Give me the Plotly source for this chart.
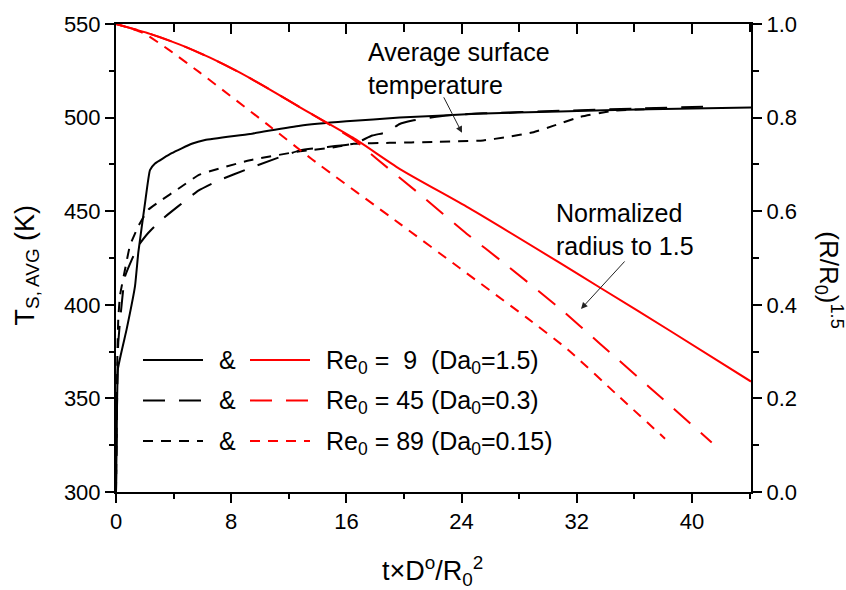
import plotly.graph_objects as go

# ---------------- data ----------------
# Average surface temperature, T_S,AVG (K)  -- left axis
t_T9 = [0, 0.05, 0.14, 0.74, 1.32, 1.55, 2.01, 2.36, 2.71, 3.87, 5.26, 6.18, 9.3, 12.78, 16.0, 19.7, 25.0, 30.8, 37.0, 44.1]
T9 = [300, 330, 366, 387, 410, 428, 454, 472, 475.5, 481, 486, 488, 491.3, 495.7, 498, 500, 502, 503.3, 504.5, 505.4]

t_T45 = [0, 0.05, 0.08, 0.12, 0.16, 0.3, 0.62, 1.09, 1.55, 2.25, 3.17, 4.33, 5.72, 7.0, 9.3, 12.78, 16.5,
         17.8, 18.8, 19.7, 20.6, 22.0, 23.4, 25.5, 30.8, 36.0, 41.4]
T45 = [300, 335, 352, 372, 380, 393, 415, 424, 431.6, 438.5, 445.5, 452.7, 461, 466, 473, 482.5, 486,
       490.4, 492.2, 496.6, 498.4, 500.2, 501.4, 502.3, 503.6, 504.8, 506]

t_T89 = [0, 0.05, 0.1, 0.16, 0.28, 0.63, 0.97, 1.55, 2.24, 3.17, 4.33, 5.8, 9.3, 12.78, 15.07, 16.5, 19.0,
         22.0, 25.5, 27.1, 29.0, 30.4, 32.2, 34.5, 36.9, 38.1]
T89 = [300, 340, 375, 392.7, 405, 419, 431.6, 442, 450.8, 456, 462, 469.5, 477.2, 482, 484, 486, 486.5,
       487, 487.8, 489.6, 492.2, 495.7, 500.3, 503.6, 504.6, 505.2]

# Normalized radius (R/R0)^1.5 -- right axis
t_R9 = [0, 2.36, 4.44, 6.53, 8.61, 10.69, 12.78, 16.46, 19.72, 24.5, 30.8, 33.6, 38.5, 44.1]
R9 = [1.0, 0.979, 0.956, 0.928, 0.896, 0.860, 0.822, 0.757, 0.690, 0.607, 0.490, 0.437, 0.344, 0.236]

t_R45 = [0, 2.36, 4.44, 6.53, 8.61, 10.69, 12.78, 16.46, 18.1, 21.11, 24.35, 26.87, 30.83, 33.61, 37.08, 41.37]
R45 = [1.0, 0.979, 0.956, 0.928, 0.896, 0.860, 0.822, 0.754, 0.712, 0.636, 0.552, 0.491, 0.392, 0.317, 0.223, 0.106]

t_R89 = [0, 1.875, 3.75, 5.83, 10.49, 13.61, 19.72, 23.89, 28.54, 31.39, 35.0, 38.13]
R89 = [1.0, 0.981, 0.943, 0.896, 0.786, 0.711, 0.573, 0.478, 0.372, 0.304, 0.202, 0.114]

legend_labels = [
    "Re<sub>0</sub> = \u00a09 \u00a0(Da<sub>0</sub>=1.5)",
    "Re<sub>0</sub> = 45 (Da<sub>0</sub>=0.3)",
    "Re<sub>0</sub> = 89 (Da<sub>0</sub>=0.15)",
]

x_ticks = [0, 8, 16, 24, 32, 40]
yL_ticks = [300, 350, 400, 450, 500, 550]
yR_ticks = [0.0, 0.2, 0.4, 0.6, 0.8, 1.0]

# ---------------- styling ----------------
FONT = "Liberation Sans, Arial, Helvetica, sans-serif"
RED = "#ff0000"
BLACK = "#000000"
LONG = "22px,14px"
SHORT = "10px,8px"

W, H = 846, 590
L, R, T, B = 116, 95, 19, 98
PW, PH = W - L - R, H - T - B


def PX(px):
    return (px - L) / PW


def PY(py):
    return 1 - (py - T) / PH


fig = go.Figure()

for tx, ty, dash in [(t_T9, T9, "solid"), (t_T45, T45, LONG), (t_T89, T89, SHORT)]:
    fig.add_trace(go.Scatter(x=tx, y=ty, mode="lines", xaxis="x", yaxis="y",
                             line=dict(color=BLACK, width=2, dash=dash, shape="spline", smoothing=0.4),
                             showlegend=False))

for tx, ty, dash in [(t_R9, R9, "solid"), (t_R45, R45, LONG), (t_R89, R89, SHORT)]:
    fig.add_trace(go.Scatter(x=tx, y=ty, mode="lines", xaxis="x2", yaxis="y2",
                             line=dict(color=RED, width=2, dash=dash, shape="spline", smoothing=0.6),
                             showlegend=False))

tickfont = dict(family=FONT, size=22, color=BLACK)
xr = [0, 44.1]

fig.update_layout(
    width=W, height=H,
    margin=dict(l=L, r=R, t=T, b=B, pad=0),
    paper_bgcolor="white", plot_bgcolor="white",
    showlegend=False,
    font=dict(family=FONT, color=BLACK),
    xaxis=dict(range=xr, tickvals=x_ticks, ticks="outside", ticklen=9, tickwidth=1.5,
               tickcolor=BLACK, showline=True, linewidth=2, linecolor=BLACK,
               showgrid=False, zeroline=False, tickfont=tickfont, anchor="y",
               minor=dict(dtick=4, tick0=0, ticks="outside", ticklen=5, tickwidth=1.5,
                          tickcolor=BLACK, showgrid=False)),
    xaxis2=dict(range=xr, tickvals=x_ticks, ticks="inside", ticklen=10, tickwidth=1.5,
                tickcolor=BLACK, showline=True, linewidth=2, linecolor=BLACK,
                showgrid=False, zeroline=False, showticklabels=False,
                overlaying="x", side="top", anchor="y2",
                minor=dict(dtick=4, tick0=0, ticks="inside", ticklen=8, tickwidth=1.5,
                           tickcolor=BLACK, showgrid=False)),
    yaxis=dict(range=[300, 550], tickvals=yL_ticks, ticks="outside", ticklen=9, tickwidth=1.5,
               tickcolor=BLACK, showline=True, linewidth=2, linecolor=BLACK,
               showgrid=False, zeroline=False, tickfont=tickfont, anchor="x",
               minor=dict(dtick=25, tick0=300, ticks="outside", ticklen=5, tickwidth=1.5,
                          tickcolor=BLACK, showgrid=False)),
    yaxis2=dict(range=[0, 1], tickvals=yR_ticks, tickformat=".1f", ticks="outside", ticklen=9,
                tickwidth=1.5, tickcolor=BLACK, showline=True, linewidth=2, linecolor=BLACK,
                showgrid=False, zeroline=False, tickfont=tickfont,
                overlaying="y", side="right", anchor="x2",
                minor=dict(dtick=0.1, tick0=0, ticks="outside", ticklen=6, tickwidth=1.5,
                           tickcolor=BLACK, showgrid=False)),
)

ann = []
# axis titles
ann.append(dict(text="t\u00d7D<sup>o</sup>/R<sub>0</sub><sup>2</sup>", x=PX(432), y=PY(572),
                xref="paper", yref="paper", showarrow=False, xanchor="center", yanchor="middle",
                font=dict(family=FONT, size=27, color=BLACK)))
ann.append(dict(text="T<sub>S, AVG</sub> (K)", x=PX(27), y=PY(262), textangle=-90,
                xref="paper", yref="paper", showarrow=False, xanchor="center", yanchor="middle",
                font=dict(family=FONT, size=27, color=BLACK)))
ann.append(dict(text="(R/R<sub>0</sub>)<sup>1.5</sup>", x=PX(829), y=PY(278), textangle=90,
                xref="paper", yref="paper", showarrow=False, xanchor="center", yanchor="middle",
                font=dict(family=FONT, size=26, color=BLACK)))

# text annotations with arrows
ann.append(dict(text="Average surface<br>temperature", x=PX(366), y=PY(31), align="left",
                xref="paper", yref="paper", showarrow=False, xanchor="left", yanchor="top",
                font=dict(family=FONT, size=25, color=BLACK)))
ann.append(dict(text="", x=PX(462), y=PY(129), ax=443 - 462, ay=92 - 129,
                xref="paper", yref="paper", showarrow=True, arrowhead=2, arrowsize=1.3,
                arrowwidth=1, arrowcolor="#222222"))
ann.append(dict(text="Normalized<br>radius to 1.5", x=PX(554), y=PY(194), align="left",
                xref="paper", yref="paper", showarrow=False, xanchor="left", yanchor="top",
                font=dict(family=FONT, size=25, color=BLACK)))
ann.append(dict(text="", x=PX(581), y=PY(307), ax=626 - 581, ay=258 - 307,
                xref="paper", yref="paper", showarrow=True, arrowhead=2, arrowsize=1.3,
                arrowwidth=1, arrowcolor="#222222"))

# custom legend
shapes = []
rows_y = [358.5, 399.5, 440.5]
dashes = ["solid", LONG, SHORT]
for yy, dash, lab in zip(rows_y, dashes, legend_labels):
    shapes.append(dict(type="line", xref="paper", yref="paper", x0=PX(143), x1=PX(203),
                       y0=PY(yy), y1=PY(yy), line=dict(color=BLACK, width=2, dash=dash)))
    shapes.append(dict(type="line", xref="paper", yref="paper", x0=PX(250), x1=PX(310),
                       y0=PY(yy), y1=PY(yy), line=dict(color=RED, width=2, dash=dash)))
    ann.append(dict(text="&", x=PX(227), y=PY(yy), xref="paper", yref="paper", showarrow=False,
                    xanchor="center", yanchor="middle", font=dict(family=FONT, size=25, color=BLACK)))
    ann.append(dict(text=lab, x=PX(324), y=PY(yy + 2), xref="paper", yref="paper", showarrow=False,
                    xanchor="left", yanchor="middle", font=dict(family=FONT, size=25, color=BLACK)))

fig.update_layout(annotations=ann, shapes=shapes)

fig.write_html("out.html")
